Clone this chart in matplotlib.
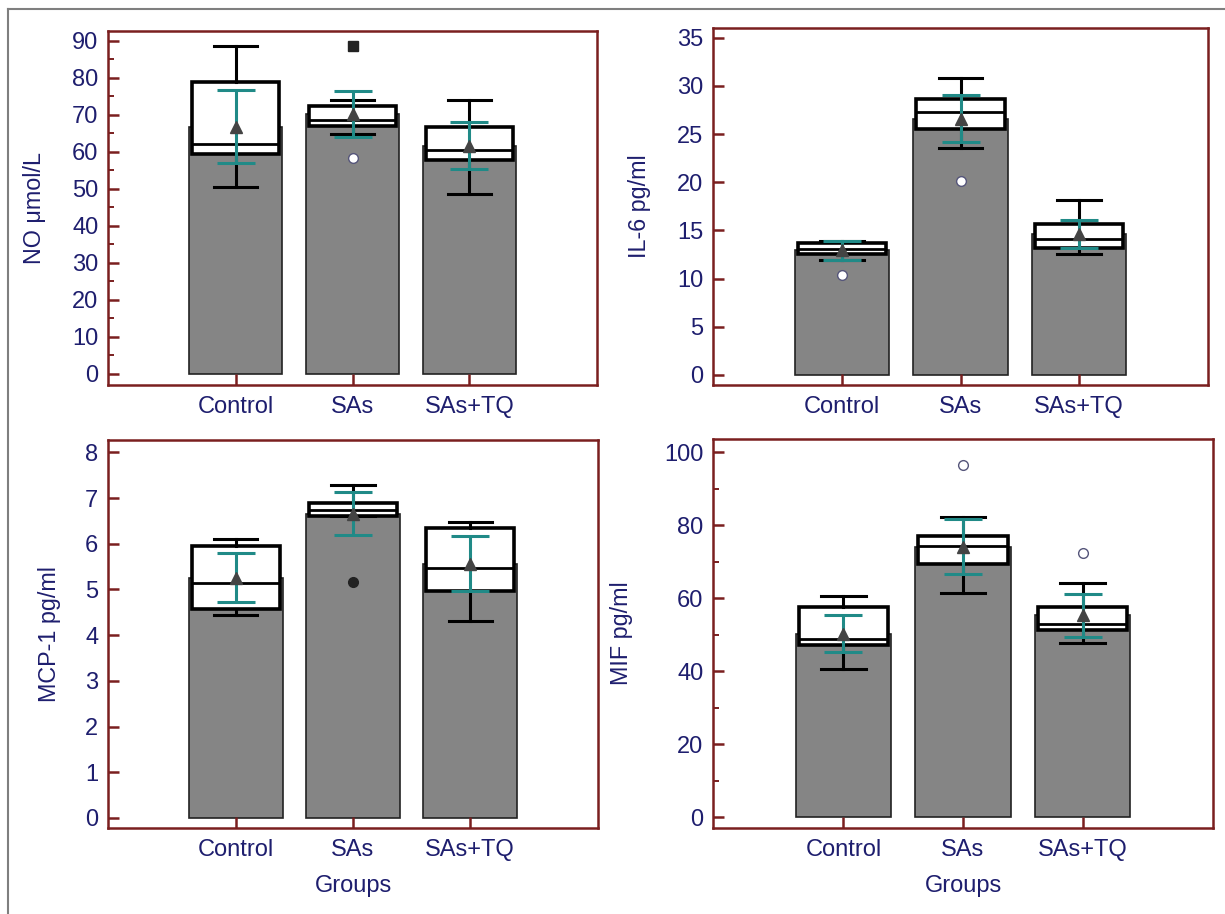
import matplotlib
matplotlib.use("Agg")
import matplotlib.pyplot as plt
from matplotlib.ticker import MultipleLocator, NullLocator
from matplotlib.lines import Line2D

plt.rcParams['font.family'] = ['Liberation Sans', 'DejaVu Sans']

groups = ['Control', 'SAs', 'SAs+TQ']

# NO umol/L
no_mean = [66.8, 70.2, 61.7]
no_q1 = [59.5, 66.9, 57.7]
no_med = [62.2, 68.5, 60.4]
no_q3 = [78.9, 72.3, 66.7]
no_wlo = [50.5, 64.7, 48.7]
no_whi = [88.6, 73.9, 73.9]
no_sd = [9.8, 6.3, 6.3]
no_out_x = ['SAs', 'SAs']
no_out_y = [88.6, 58.4]
no_out_fill = ['#222222', 'white']
no_out_marker = ['s', 'o']

# IL-6 pg/ml
il6_mean = [12.95, 26.6, 14.6]
il6_q1 = [12.5, 25.5, 13.2]
il6_med = [13.1, 27.3, 14.06]
il6_q3 = [13.72, 28.65, 15.7]
il6_wlo = [11.98, 23.6, 12.5]
il6_whi = [13.9, 30.8, 18.2]
il6_sd = [1.0, 2.45, 1.45]
il6_out_x = ['Control', 'SAs']
il6_out_y = [10.4, 20.1]
il6_out_fill = ['white', 'white']
il6_out_marker = ['o', 'o']

# MCP-1 pg/ml
mcp_mean = [5.26, 6.66, 5.56]
mcp_q1 = [4.58, 6.60, 4.96]
mcp_med = [5.15, 6.73, 5.47]
mcp_q3 = [5.94, 6.90, 6.35]
mcp_wlo = [4.43, 6.60, 4.30]
mcp_whi = [6.10, 7.28, 6.48]
mcp_sd = [0.54, 0.47, 0.60]
mcp_out_x = ['SAs']
mcp_out_y = [5.16]
mcp_out_fill = ['#222222']
mcp_out_marker = ['o']

# MIF pg/ml
mif_mean = [50.3, 74.1, 55.3]
mif_q1 = [47.1, 69.3, 51.2]
mif_med = [48.9, 74.2, 53.0]
mif_q3 = [57.6, 77.1, 57.6]
mif_wlo = [40.7, 61.3, 47.8]
mif_whi = [60.5, 82.1, 64.2]
mif_sd = [5.1, 7.6, 5.85]
mif_out_x = ['SAs', 'SAs+TQ']
mif_out_y = [96.6, 72.4]
mif_out_fill = ['white', 'white']
mif_out_marker = ['o', 'o']

W, H = 1225, 914
fig = plt.figure(figsize=(W / 100, H / 100), dpi=100)

SPINE = '#7a1f1f'
NAVY = '#1e1e6e'
TEAL = '#208a87'
GRAY = '#858585'


def rect(l, r, t, b):
    return [l / W, (H - b) / H, (r - l) / W, (b - t) / H]


fig.add_artist(Line2D([8 / W, 1.0], [1 - 9 / H, 1 - 9 / H], color='#7f7f7f', lw=1.5))
fig.add_artist(Line2D([8 / W, 8 / W], [0, 1 - 9 / H], color='#7f7f7f', lw=1.5))

panels = [
    dict(r=rect(108, 597, 30.5, 385), mean=no_mean, q1=no_q1, med=no_med, q3=no_q3,
         wlo=no_wlo, whi=no_whi, sd=no_sd, ox=no_out_x, oy=no_out_y, of=no_out_fill,
         om=no_out_marker, ylim=(-3.0, 92.8), major=10, minor=5, ylabel='NO μmol/L',
         lx=-0.127, xlabel=False),
    dict(r=rect(713, 1208, 28, 385), mean=il6_mean, q1=il6_q1, med=il6_med, q3=il6_q3,
         wlo=il6_wlo, whi=il6_whi, sd=il6_sd, ox=il6_out_x, oy=il6_out_y, of=il6_out_fill,
         om=il6_out_marker, ylim=(-1.04, 36.0), major=5, minor=None, ylabel='IL-6 pg/ml',
         lx=-0.125, xlabel=False),
    dict(r=rect(108, 598, 440, 828), mean=mcp_mean, q1=mcp_q1, med=mcp_med, q3=mcp_q3,
         wlo=mcp_wlo, whi=mcp_whi, sd=mcp_sd, ox=mcp_out_x, oy=mcp_out_y, of=mcp_out_fill,
         om=mcp_out_marker, ylim=(-0.22, 8.27), major=1, minor=None, ylabel='MCP-1 pg/ml',
         lx=-0.096, xlabel=True),
    dict(r=rect(713, 1213, 439, 828), mean=mif_mean, q1=mif_q1, med=mif_med, q3=mif_q3,
         wlo=mif_wlo, whi=mif_whi, sd=mif_sd, ox=mif_out_x, oy=mif_out_y, of=mif_out_fill,
         om=mif_out_marker, ylim=(-3.0, 103.6), major=20, minor=10, ylabel='MIF pg/ml',
         lx=-0.160, xlabel=True),
]

x = [1, 2, 3]
for p in panels:
    ax = fig.add_axes(p['r'])
    ax.bar(x, p['mean'], width=0.8, color=GRAY, edgecolor='#222222', linewidth=1.2, zorder=1)
    stats = []
    for i in range(3):
        stats.append(dict(whislo=p['wlo'][i], q1=p['q1'][i], med=p['med'][i],
                          q3=p['q3'][i], whishi=p['whi'][i], fliers=[]))
    ax.bxp(stats, positions=x, widths=0.75, patch_artist=True, showfliers=False,
           capwidths=0.37,
           boxprops=dict(facecolor='white', edgecolor='black', linewidth=2.6),
           medianprops=dict(color='black', linewidth=2.0),
           whiskerprops=dict(color='black', linewidth=2.2),
           capprops=dict(color='black', linewidth=2.2),
           manage_ticks=False, zorder=2)
    ax.errorbar(x, p['mean'], yerr=p['sd'], fmt='none', ecolor=TEAL, elinewidth=2.2,
                capsize=13.7, capthick=2.2, zorder=3)
    ax.plot(x, p['mean'], linestyle='none', marker='^', markersize=8.5,
            color='#444444', zorder=4)
    for ox, oy, of, om in zip(p['ox'], p['oy'], p['of'], p['om']):
        xi = x[groups.index(ox)]
        ec = '#222222' if of != 'white' else '#55557a'
        ax.plot([xi], [oy], linestyle='none', marker=om, markersize=7,
                markerfacecolor=of, markeredgecolor=ec, markeredgewidth=1.0, zorder=5)

    ax.set_xlim(-0.09, 4.09)
    ax.set_ylim(*p['ylim'])
    ax.set_xticks(x)
    ax.set_xticklabels(groups)
    ax.yaxis.set_major_locator(MultipleLocator(p['major']))
    if p['minor']:
        ax.yaxis.set_minor_locator(MultipleLocator(p['minor']))
    else:
        ax.yaxis.set_minor_locator(NullLocator())
    ax.xaxis.set_minor_locator(NullLocator())
    for s in ax.spines.values():
        s.set_color(SPINE)
        s.set_linewidth(1.8)
    ax.tick_params(axis='both', which='major', direction='in', length=8, width=1.8,
                   color=SPINE, labelcolor=NAVY, labelsize=17)
    ax.tick_params(axis='y', which='minor', direction='in', length=4, width=1.4, color=SPINE)
    ax.tick_params(axis='x', pad=8)
    ax.tick_params(axis='y', pad=7)
    ax.set_ylabel(p['ylabel'], color=NAVY, fontsize=16.8)
    ax.yaxis.set_label_coords(p['lx'], 0.5)
    if p['xlabel']:
        ax.set_xlabel('Groups', color=NAVY, fontsize=17, labelpad=10)

fig.savefig('out.png', dpi=100)
